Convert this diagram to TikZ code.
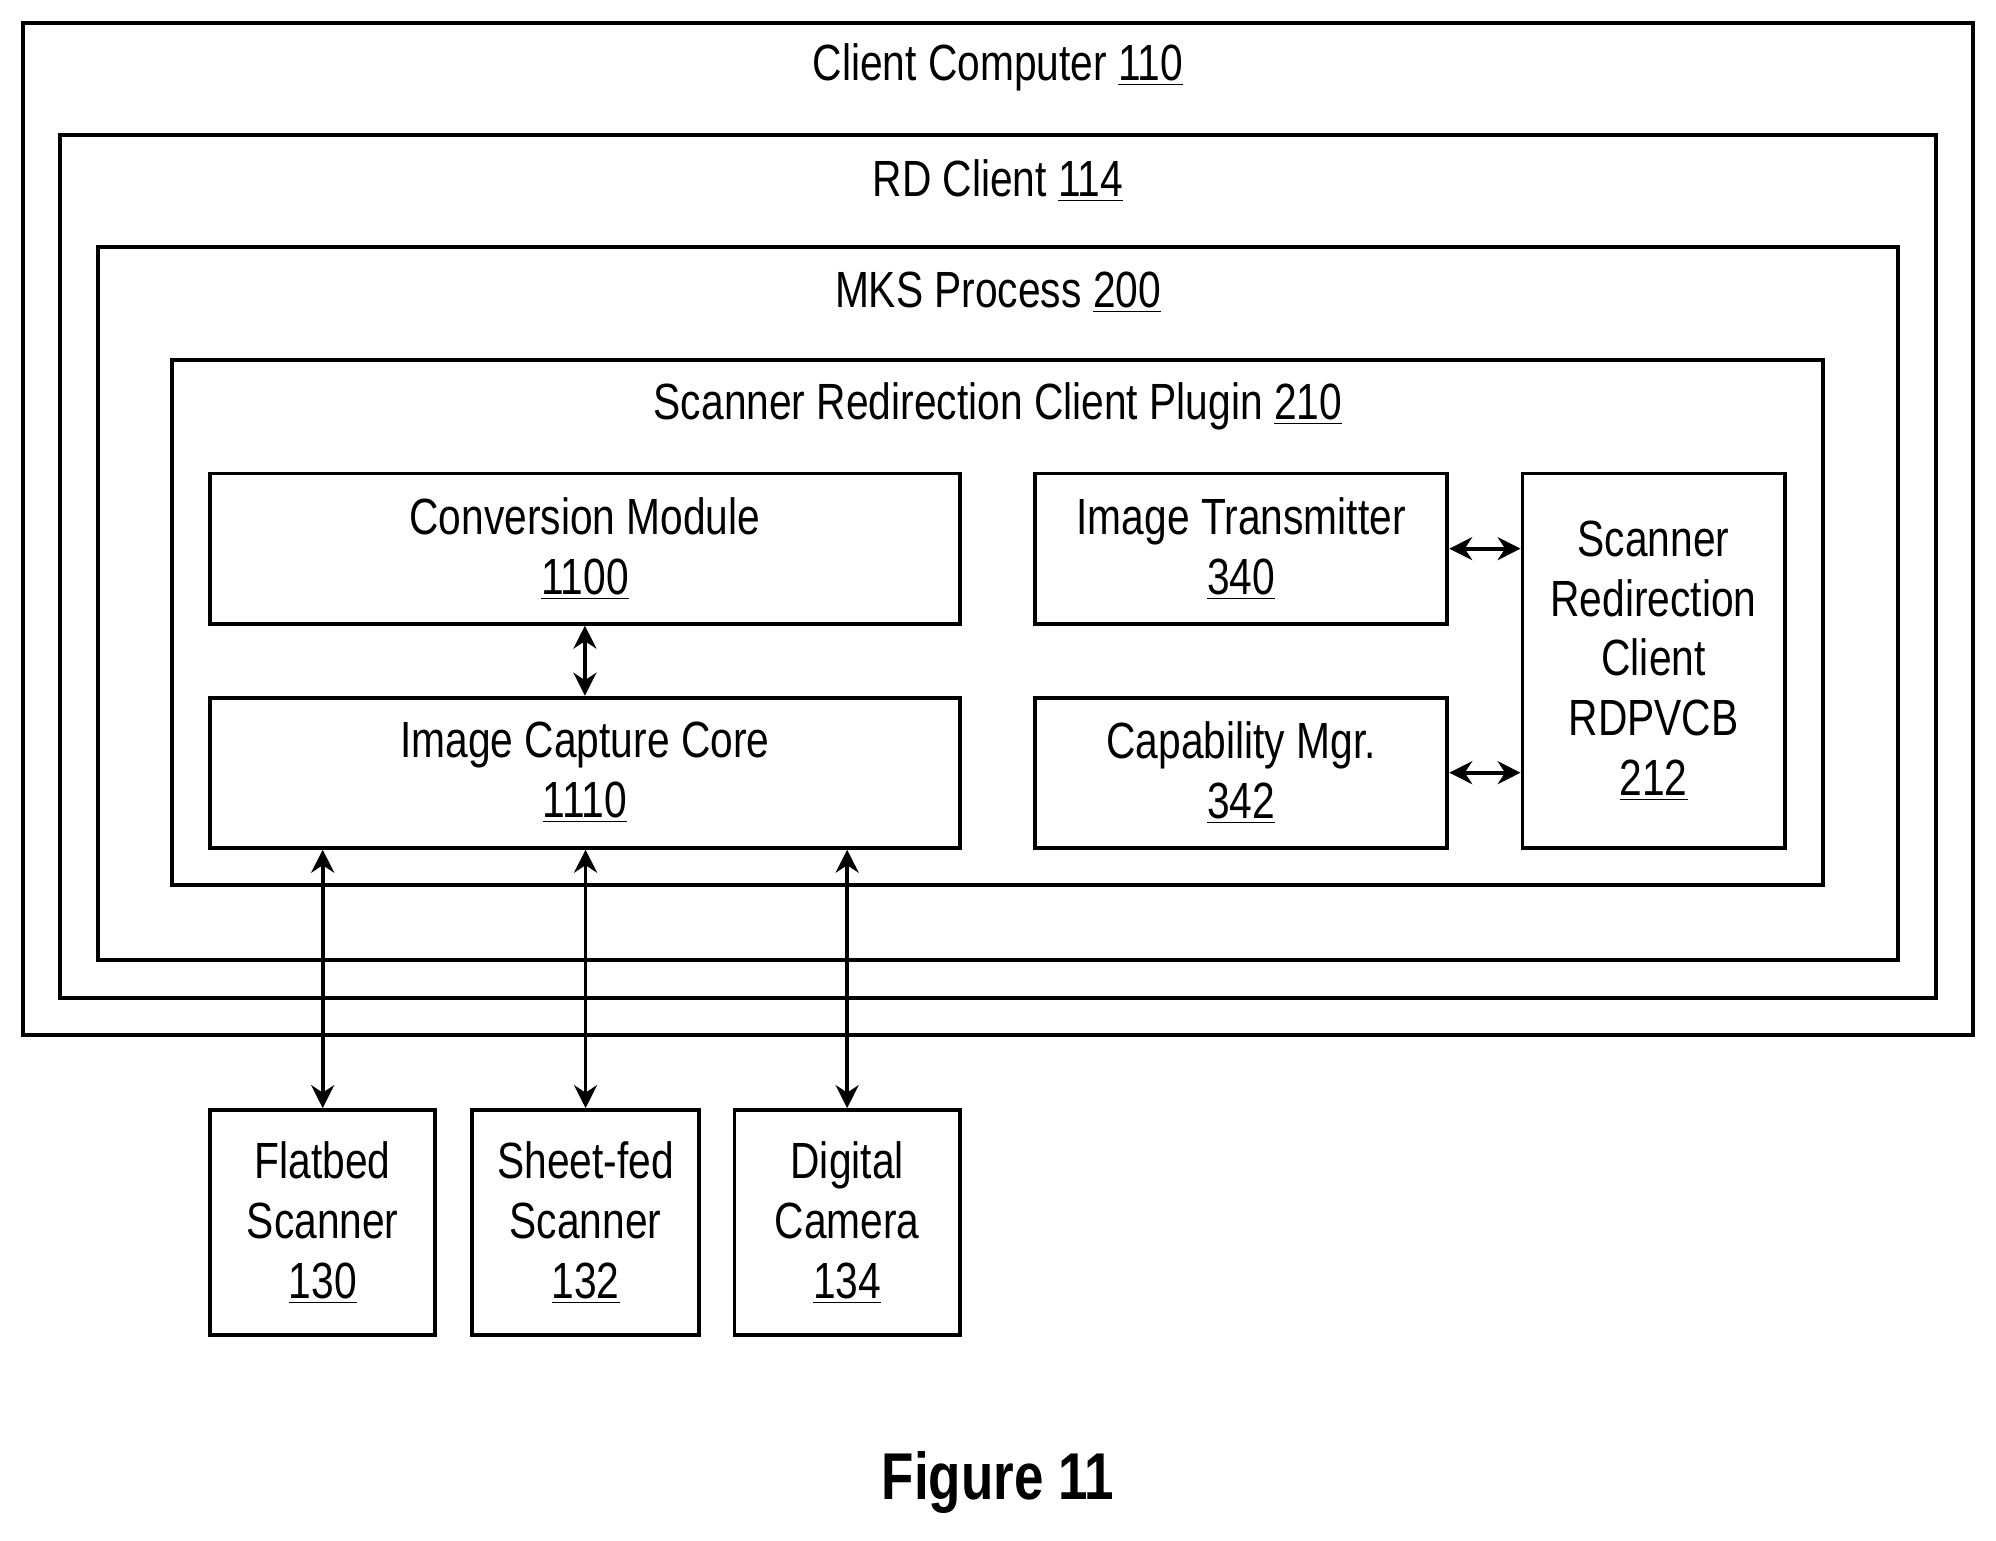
\documentclass[tikz,border=0pt]{standalone}
\usepackage{fontspec}
\setmainfont[FakeStretch=0.8]{Liberation Sans}
\usetikzlibrary{arrows.meta}
\begin{document}
\begin{tikzpicture}[x=0.5pt,y=-0.5pt,
  box/.style={draw,line width=1.5pt},
  lbl/.style={font=\fontsize{20}{23.5}\selectfont,align=center,inner sep=0},
  arr/.style={line width=1.5pt,{Stealth[length=9pt,width=9pt]}-{Stealth[length=9pt,width=9pt]}}]
\useasboundingbox (0,0) rectangle (1568,1210);
\draw[box] (18,18) rectangle (1550,813);
\node[lbl] (t1) at (784,53) {Client Computer \underline{110}};
\draw[box] (47,106) rectangle (1521,784);
\node[lbl] (t2) at (784,142) {RD Client \underline{114}};
\draw[box] (77,194) rectangle (1491,754);
\node[lbl] (t3) at (784,230) {MKS Process \underline{200}};
\draw[box] (135,283) rectangle (1432,695);
\node[lbl] (t4) at (784,319) {Scanner Redirection Client Plugin \underline{210}};
\node[box,lbl,minimum width=294.5pt,minimum height=59pt] (conv) at (459.5,431) {Conversion Module\\\underline{1100}};
\node[box,lbl,minimum width=294.5pt,minimum height=59pt] (core) at (459.5,607) {Image Capture Core\\\underline{1110}};
\node[box,lbl,minimum width=162pt,minimum height=59pt] (tx) at (975,431) {Image Transmitter\\\underline{340}};
\node[box,lbl,minimum width=162pt,minimum height=59pt] (cap) at (975,607) {Capability Mgr.\\\underline{342}};
\node[box,lbl,minimum width=103pt,minimum height=147pt] (src) at (1299,519) {Scanner\\Redirection\\Client\\RDPVCB\\\underline{212}};
\node[box,lbl,minimum width=88.5pt,minimum height=88.5pt] (fb) at (253.5,960.5) {Flatbed\\Scanner\\\underline{130}};
\node[box,lbl,minimum width=89pt,minimum height=88.5pt] (sf) at (460,960.5) {Sheet-fed\\Scanner\\\underline{132}};
\node[box,lbl,minimum width=88.5pt,minimum height=88.5pt] (dc) at (665.5,960.5) {Digital\\Camera\\\underline{134}};
\node[font=\fontsize{26}{30}\selectfont\bfseries,inner sep=0] (fig) at (784,1165) {Figure 11};
\draw[arr] (conv.south) -- (core.north);
\draw[arr] (tx.east) -- (tx.east -| src.west);
\draw[arr] (cap.east) -- (cap.east -| src.west);
\draw[arr] (fb.north) -- (fb.north |- core.south);
\draw[arr] (sf.north) -- (sf.north |- core.south);
\draw[arr] (dc.north) -- (dc.north |- core.south);
\end{tikzpicture}
\end{document}
